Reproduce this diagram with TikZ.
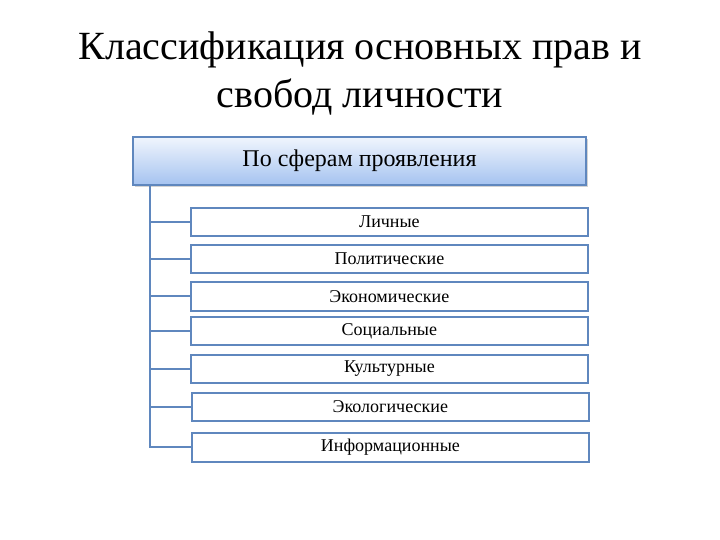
\documentclass[tikz,border=0pt]{standalone}
\usepackage{fontspec}
\setmainfont{Liberation Serif}
\usetikzlibrary{shadows}
\definecolor{bord}{RGB}{95,135,190}
\definecolor{topc}{RGB}{240,245,253}
\definecolor{botc}{RGB}{165,195,240}
\begin{document}
\begin{tikzpicture}[x=1pt,y=-1pt,
  itembox/.style={draw=bord,line width=1.8pt,fill=white,font=\fontsize{18}{20}\selectfont},
  headbox/.style={draw=bord,line width=1.5pt,top color=topc,bottom color=botc,drop shadow={shadow xshift=1.5pt,shadow yshift=-2pt,opacity=0.35},font=\fontsize{24}{28}\selectfont},
  conn/.style={draw=bord,line width=2pt}]
\useasboundingbox (0,0) rectangle (720,540);
\node[font=\fontsize{40}{48}\selectfont,align=center] (title) at (360,73) {Классификация основных прав и\\свобод личности};
\node[headbox,minimum width=453pt,minimum height=48pt,inner sep=0pt] (head) at (359.5,161) {По сферам проявления};
\foreach \n/\t/\xa/\ya/\yb in {a/Личные/190/207/235, b/Политические/190/244/272, c/Экономические/190/281/310, d/Социальные/190/316/344, e/Культурные/190/354/382, f/Экологические/191/392/420, g/Информационные/191/432/461}{
  \node[itembox,minimum width=397pt,minimum height={\yb-\ya},inner sep=0pt,anchor=north west] (\n) at (\xa,\ya) {\t};
}
\coordinate (top) at (150,185);
\draw[conn] (top) |- (g.west);
\foreach \n in {a,b,c,d,e,f}{\draw[conn] (150,0 |- \n.west) -- (\n.west);}
\end{tikzpicture}
\end{document}
